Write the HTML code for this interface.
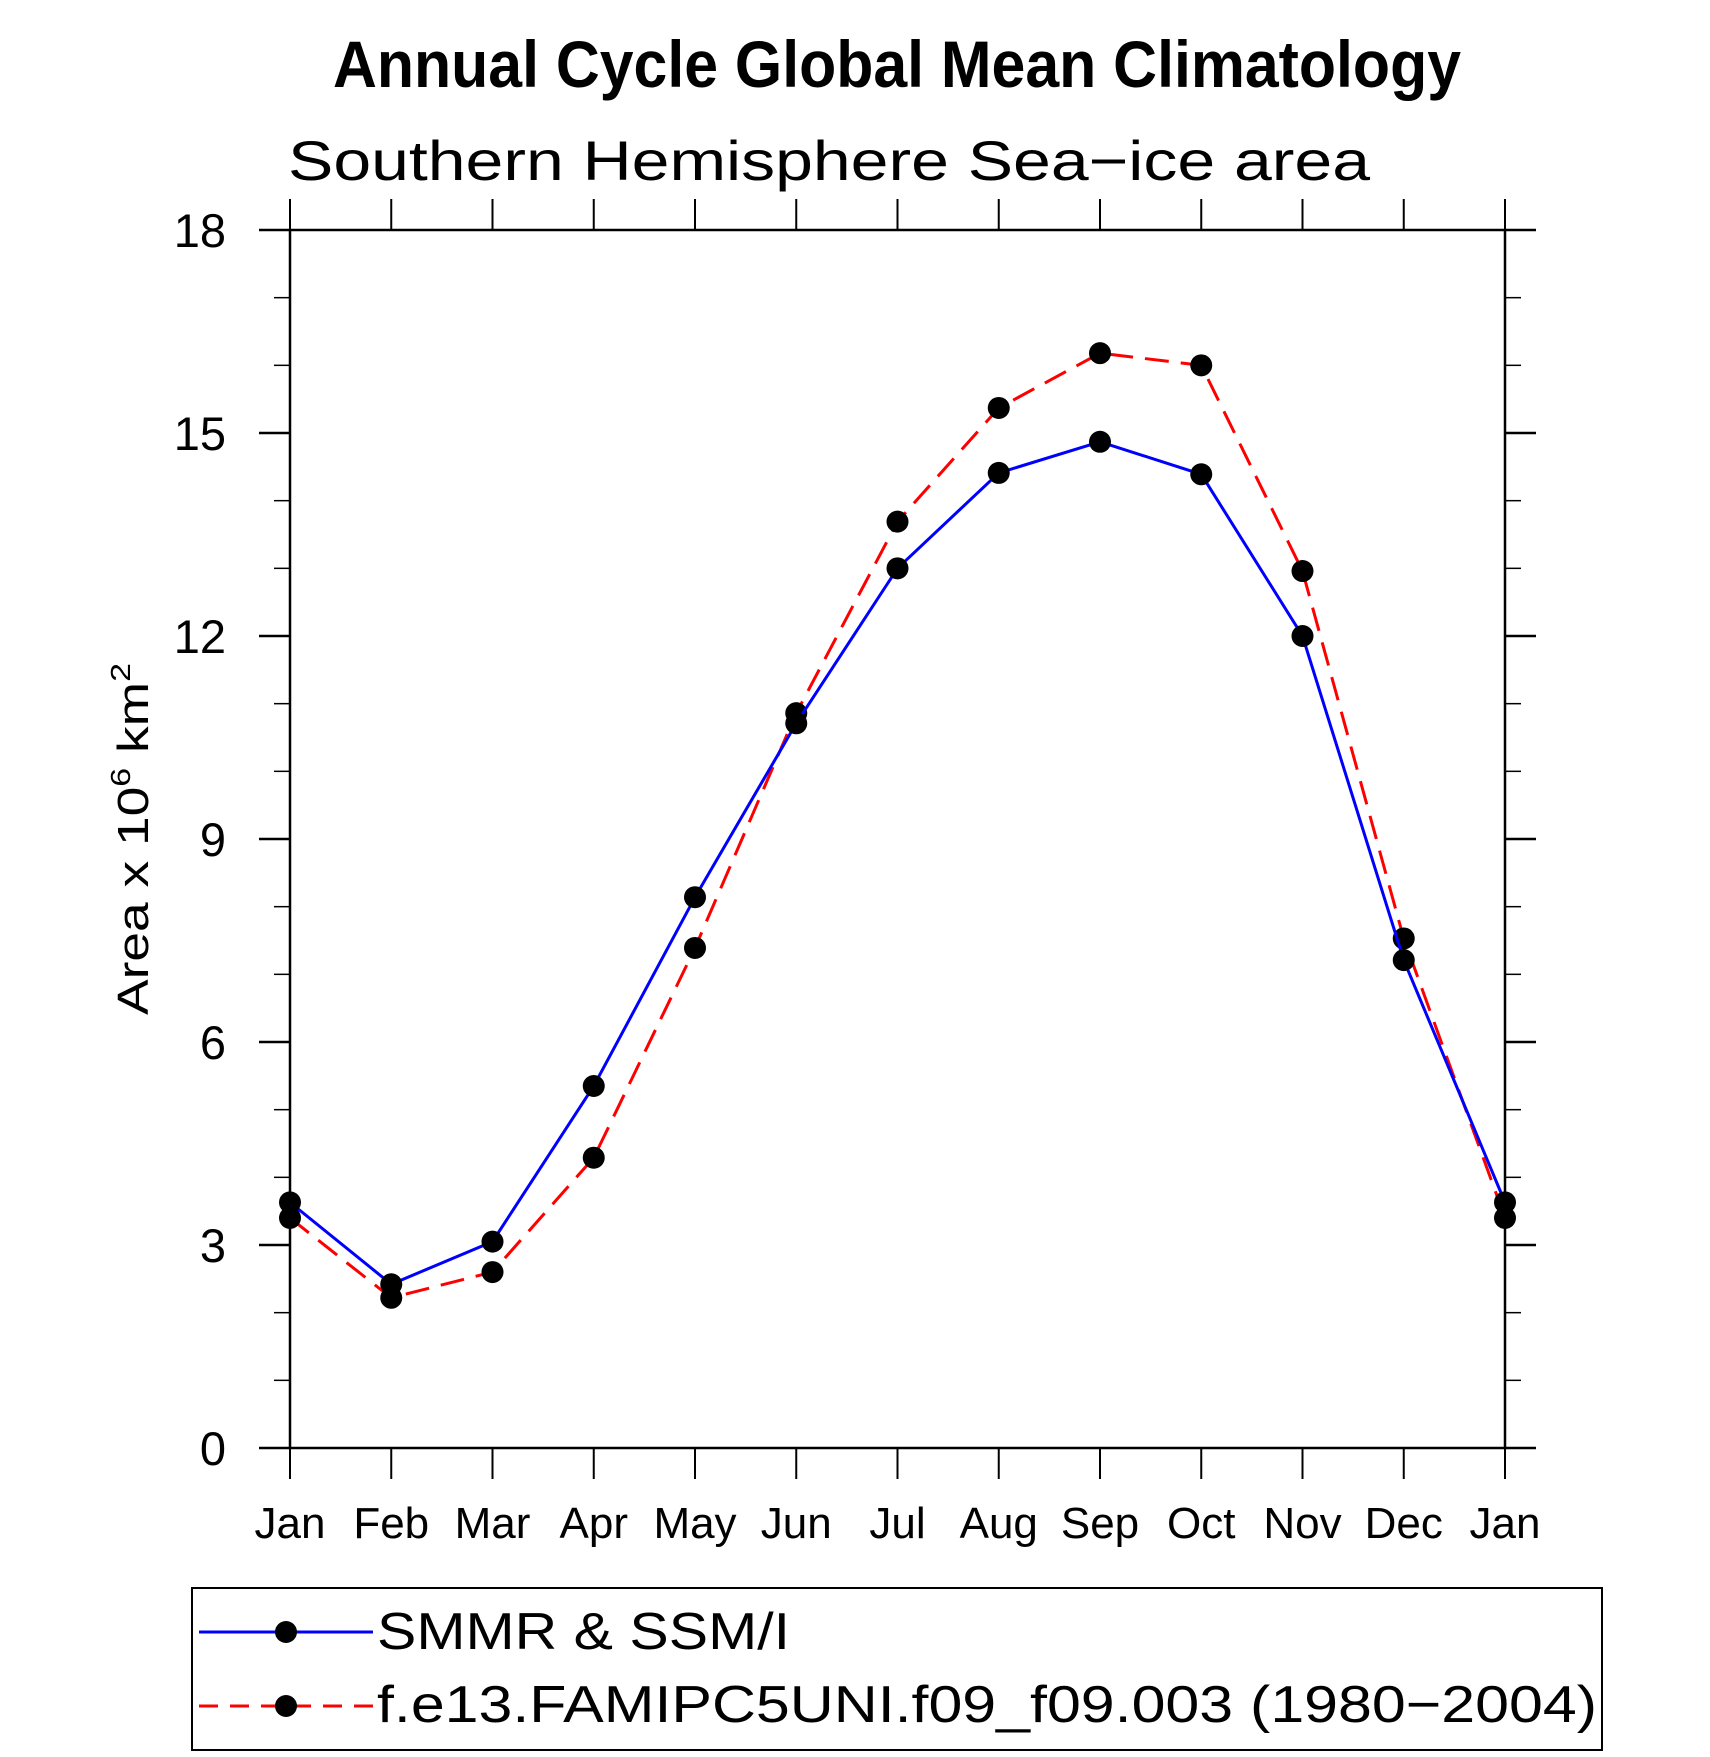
<!DOCTYPE html>
<html><head><meta charset="utf-8"><style>
html,body{margin:0;padding:0;background:#fff}
svg{display:block}
text{font-family:"Liberation Sans",sans-serif;fill:#000}
</style></head><body>
<svg id="chart" width="1710" height="1757" viewBox="0 0 1710 1757" xmlns="http://www.w3.org/2000/svg">
<text x="333" y="87" font-size="66" font-weight="bold" textLength="1128" lengthAdjust="spacingAndGlyphs">Annual Cycle Global Mean Climatology</text>
<text x="288" y="180" font-size="56" textLength="1082" lengthAdjust="spacingAndGlyphs">Southern Hemisphere Sea−ice area</text>
<text transform="translate(148,1015) rotate(-90)" font-size="44" textLength="352" lengthAdjust="spacingAndGlyphs">Area x 10<tspan font-size="28" dy="-18">6</tspan><tspan dy="18"> km</tspan><tspan font-size="28" dy="-18">2</tspan></text>
<g id="axes"></g>
<g id="series"></g>
<g>
<rect x="192" y="1588" width="1410" height="162" fill="none" stroke="#000" stroke-width="2"/>
<g>
<line x1="199" y1="1632" x2="373" y2="1632" stroke="#0000ff" stroke-width="3"/>
<circle cx="286" cy="1632" r="11" fill="#000"/>
<text x="377" y="1649" font-size="52" textLength="413" lengthAdjust="spacingAndGlyphs">SMMR &amp; SSM/I</text>
</g>
<g>
<line x1="199" y1="1706" x2="373" y2="1706" stroke="#ff0000" stroke-width="3" stroke-dasharray="19,12"/>
<circle cx="286" cy="1706" r="11" fill="#000"/>
<text x="377" y="1722" font-size="52" textLength="1220" lengthAdjust="spacingAndGlyphs">f.e13.FAMIPC5UNI.f09_f09.003 (1980−2004)</text>
</g>
</g>
</svg>
<script>
const months = ["Jan","Feb","Mar","Apr","May","Jun","Jul","Aug","Sep","Oct","Nov","Dec","Jan"];
const obsValues = [3.63,2.42,3.05,5.35,8.14,10.71,13.0,14.41,14.87,14.39,12.0,7.21,3.63];
const modelValues = [3.40,2.22,2.60,4.29,7.39,10.86,13.69,15.37,16.18,16.0,12.96,7.53,3.40];
const yTickLabels = ["0","3","6","9","12","15","18"];

const NS = "http://www.w3.org/2000/svg";
const L = 290, R = 1505, T = 230, B = 1448, YMAX = 18;
function xPos(i){ return L + i * (R - L) / (months.length - 1); }
function yPos(v){ return B - v * (B - T) / YMAX; }
function mk(tag, attrs, parent){
  const e = document.createElementNS(NS, tag);
  for (const k in attrs) e.setAttribute(k, attrs[k]);
  parent.appendChild(e);
  return e;
}
const axes = document.getElementById('axes');
const ser = document.getElementById('series');

const fr = mk('rect', {x:L, y:T, width:R-L, height:B-T, fill:'none', stroke:'#000', 'stroke-width':2.5}, axes);



months.forEach((m, i) => {
  const x = xPos(i);
  const t1 = mk('line', {x1:x, y1:B, x2:x, y2:B+31, stroke:'#000', 'stroke-width':2}, axes);
  
  
  const t2 = mk('line', {x1:x, y1:T, x2:x, y2:T-31, stroke:'#000', 'stroke-width':2}, axes);
  
  
  const tx = mk('text', {x:x, y:1538, 'font-size':44, 'text-anchor':'middle'}, axes);
  tx.textContent = m;
  
  
});

for (let v = 0; v <= YMAX; v++) {
  const y = yPos(v);
  const major = v % 3 === 0;
  const len = major ? 31 : 16;
  const a = mk('line', {x1:L-len, y1:y, x2:L, y2:y, stroke:'#000', 'stroke-width':major?2.5:1.5}, axes);
  
  
  const b = mk('line', {x1:R, y1:y, x2:R+len, y2:y, stroke:'#000', 'stroke-width':major?2.5:1.5}, axes);
  
  
}
yTickLabels.forEach(lbl => {
  const y = yPos(parseFloat(lbl));
  const tx = mk('text', {x:226, y:y+17, 'font-size':47, 'text-anchor':'end'}, axes);
  tx.textContent = lbl;
  
  
});

function drawSeries(vals, color, dash, name){
  const pts = vals.map((v, i) => xPos(i) + ',' + yPos(v)).join(' ');
  const attrs = {points:pts, fill:'none', stroke:color, 'stroke-width':3};
  if (dash) attrs['stroke-dasharray'] = dash;
  const pl = mk('polyline', attrs, ser);
  
  
  vals.forEach((v, i) => {
    const c = mk('circle', {cx:xPos(i), cy:yPos(v), r:11, fill:'#000'}, ser);
    
    
  });
}
drawSeries(modelValues, '#ff0000', '24,12', 'model-series');
drawSeries(obsValues, '#0000ff', null, 'obs-series');
</script>
</body></html>
